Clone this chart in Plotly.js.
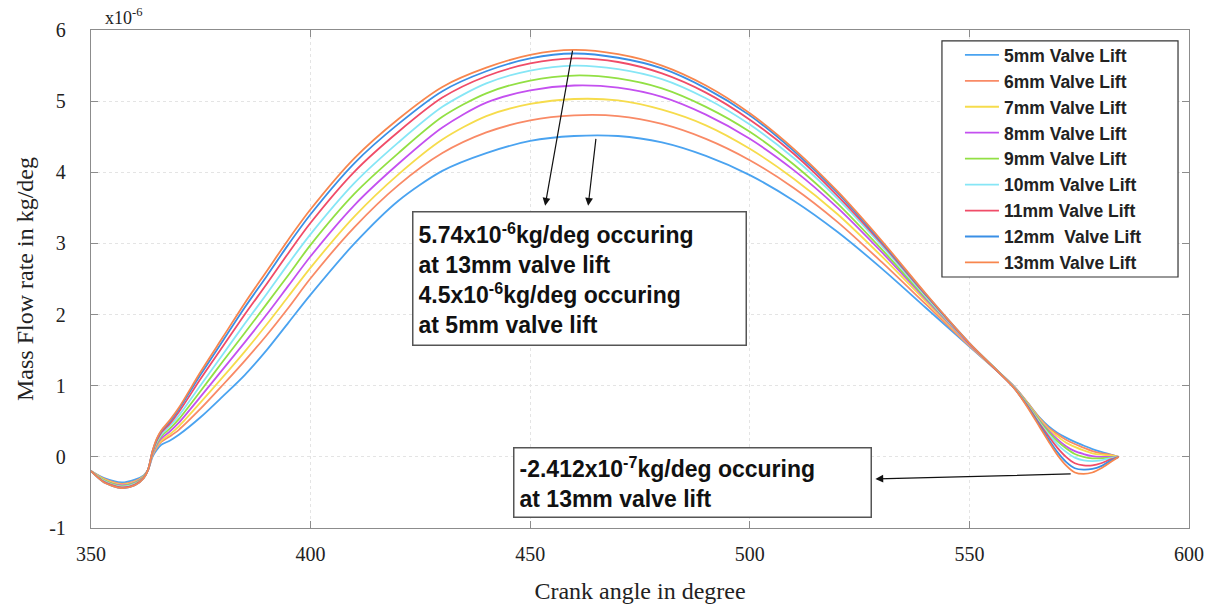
<!DOCTYPE html>
<html>
<head>
<meta charset="utf-8">
<script src="https://cdn.plot.ly/plotly-3.0.1.min.js"></script>
<style>html,body{margin:0;padding:0;background:#fff}#chart{width:1213px;height:608px}</style>
</head>
<body>
<div id="chart"></div>
<script>
// Crank angle (degree)
const crankAngle = [350,353,357,360,362,363,364,365,366,368,370,375,380,385,390,395,400,410,420,430,440,450,460,470,480,490,500,510,520,530,540,550,560,563,566,568,570,572,574,576,578,580,582,584];

// Mass flow rate (x10^-6 kg/deg), one array per valve lift
const lift5mm  = [-0.20,-0.30,-0.36,-0.32,-0.26,-0.18,0.00,0.10,0.17,0.23,0.31,0.56,0.85,1.15,1.50,1.89,2.28,3.00,3.60,4.02,4.27,4.44,4.51,4.51,4.42,4.23,3.96,3.60,3.16,2.65,2.10,1.55,1.00,0.78,0.55,0.43,0.34,0.27,0.21,0.16,0.11,0.07,0.035,0.00];
const lift6mm  = [-0.20,-0.31,-0.38,-0.34,-0.27,-0.18,0.02,0.13,0.21,0.29,0.38,0.68,1.01,1.35,1.71,2.10,2.51,3.23,3.82,4.27,4.56,4.73,4.80,4.79,4.68,4.47,4.17,3.78,3.30,2.74,2.15,1.56,1.00,0.78,0.54,0.41,0.32,0.24,0.18,0.13,0.08,0.05,0.03,0.00];
const lift7mm  = [-0.20,-0.32,-0.39,-0.35,-0.27,-0.18,0.03,0.15,0.23,0.32,0.43,0.77,1.12,1.48,1.86,2.26,2.66,3.38,3.97,4.46,4.79,4.96,5.03,5.01,4.88,4.66,4.33,3.91,3.41,2.82,2.19,1.57,0.99,0.77,0.53,0.39,0.29,0.20,0.14,0.09,0.05,0.03,0.02,0.00];
const lift8mm  = [-0.20,-0.33,-0.40,-0.36,-0.28,-0.18,0.04,0.17,0.26,0.36,0.48,0.85,1.23,1.61,2.00,2.41,2.82,3.54,4.12,4.63,4.98,5.15,5.22,5.19,5.06,4.81,4.47,4.03,3.50,2.88,2.22,1.58,0.99,0.76,0.51,0.37,0.25,0.15,0.08,0.04,0.01,0.00,0.00,0.00];
const lift9mm  = [-0.20,-0.33,-0.41,-0.37,-0.28,-0.18,0.05,0.19,0.29,0.40,0.53,0.93,1.34,1.74,2.15,2.56,2.98,3.70,4.27,4.78,5.11,5.29,5.36,5.32,5.18,4.92,4.57,4.11,3.56,2.92,2.24,1.59,0.99,0.76,0.50,0.35,0.22,0.12,0.04,0.00,-0.02,-0.02,-0.01,0.00];
const lift10mm = [-0.20,-0.34,-0.42,-0.38,-0.29,-0.18,0.06,0.21,0.31,0.44,0.58,1.01,1.44,1.87,2.29,2.72,3.13,3.85,4.42,4.92,5.25,5.43,5.50,5.45,5.31,5.04,4.67,4.20,3.63,2.97,2.26,1.59,0.99,0.75,0.48,0.32,0.18,0.07,-0.01,-0.05,-0.06,-0.05,-0.02,0.00];
const lift11mm = [-0.20,-0.35,-0.43,-0.39,-0.29,-0.18,0.07,0.23,0.34,0.47,0.63,1.10,1.55,2.00,2.43,2.87,3.29,4.01,4.57,5.05,5.35,5.53,5.60,5.55,5.39,5.12,4.74,4.26,3.67,3.00,2.28,1.59,0.98,0.74,0.46,0.29,0.13,0.00,-0.09,-0.12,-0.12,-0.09,-0.04,0.00];
const lift12mm = [-0.20,-0.36,-0.44,-0.40,-0.30,-0.18,0.08,0.25,0.36,0.50,0.67,1.16,1.63,2.10,2.54,2.99,3.41,4.13,4.68,5.14,5.42,5.60,5.67,5.61,5.46,5.18,4.80,4.30,3.71,3.02,2.29,1.60,0.98,0.73,0.44,0.25,0.07,-0.07,-0.16,-0.18,-0.17,-0.13,-0.06,0.00];
const lift13mm = [-0.20,-0.36,-0.44,-0.40,-0.30,-0.18,0.08,0.26,0.37,0.52,0.69,1.20,1.68,2.16,2.61,3.06,3.48,4.20,4.75,5.20,5.47,5.65,5.72,5.66,5.50,5.22,4.83,4.33,3.73,3.04,2.30,1.60,0.98,0.72,0.42,0.22,0.03,-0.12,-0.22,-0.24,-0.22,-0.16,-0.08,0.00];

const seriesNames = ["5mm Valve Lift","6mm Valve Lift","7mm Valve Lift","8mm Valve Lift","9mm Valve Lift","10mm Valve Lift","11mm Valve Lift","12mm&nbsp; Valve Lift","13mm Valve Lift"];
const seriesValues = [lift5mm,lift6mm,lift7mm,lift8mm,lift9mm,lift10mm,lift11mm,lift12mm,lift13mm];
const seriesColors = ["#4aa3f0","#f98a66","#f6dc4c","#c450f0","#92e044","#86e6f6","#f04c68","#3a8fe6","#f8864e"];

const xTicks = [350,400,450,500,550,600];
const yTicks = [-1,0,1,2,3,4,5,6];

const traces = seriesValues.map((v,i)=>({
  type:'scatter', mode:'lines', x:crankAngle, y:v, name:seriesNames[i],
  legendgroup:'g'+i,
  line:{color:seriesColors[i], width:1.8, shape:'spline', smoothing:0.8}
}));

const serif = "Liberation Serif, Times New Roman, serif";
const sans = "Liberation Sans, Arial, sans-serif";

const axisCommon = {
  showline:true, linecolor:'#8c8c8c', linewidth:1.2, mirror:'ticks',
  ticks:'inside', ticklen:7, tickcolor:'#8c8c8c', tickwidth:1.2,
  showgrid:true, gridcolor:'#e4e4e4', griddash:'dot', gridwidth:1,
  zeroline:false, tickfont:{family:serif, size:20, color:'#222'}
};

const layout = {
  width:1213, height:608,
  margin:{l:91, r:24, t:30, b:80},
  paper_bgcolor:'#fff', plot_bgcolor:'#fff',
  showlegend:true,
  legend:{x:0.7914, y:0.986, xanchor:'left', yanchor:'top', bgcolor:'rgba(0,0,0,0)',
    borderwidth:0, tracegroupgap:0.2, itemwidth:34,
    font:{family:sans, size:17.5, color:'#222', weight:'bold'}},
  shapes:[
    {type:'rect', xref:'paper', yref:'paper', x0:0.775, x1:0.990, y0:0.504, y1:0.978,
     line:{color:'#333', width:1.2}, fillcolor:'#fff', layer:'above'}
  ],
  xaxis:Object.assign({}, axisCommon, {range:[350,600], tickvals:xTicks, ticktext:xTicks.map(String),
    ticklabelstandoff:8,
    title:{text:'Crank angle in degree', font:{family:serif, size:24, color:'#222'}, standoff:18}}),
  yaxis:Object.assign({}, axisCommon, {range:[-1,6], tickvals:yTicks, ticktext:yTicks.map(String),
    ticklabelstandoff:20,
    title:{text:'Mass Flow rate in kg/deg', font:{family:serif, size:24, color:'#222'}, standoff:8}}),
  annotations:[
    {xref:'paper', yref:'paper', x:0.011, y:1.0, xanchor:'left', yanchor:'bottom', showarrow:false,
     text:'x10<sup>-6</sup>', font:{family:serif, size:18, color:'#222'}},
    {x:423.1, y:3.45, xanchor:'left', yanchor:'top', showarrow:false, align:'left', valign:'middle',
     width:322, height:122,
     text:'5.74x10<sup>-6</sup>kg/deg occuring<br>at 13mm valve lift<br>4.5x10<sup>-6</sup>kg/deg occuring<br>at 5mm valve lift',
     font:{family:sans, size:23, color:'#111', weight:'bold'},
     bordercolor:'#555', borderwidth:1.5, borderpad:5, bgcolor:'#fff'},
    {x:446.1, y:0.14, xanchor:'left', yanchor:'top', showarrow:false, align:'left', valign:'middle',
     width:346, height:58,
     text:'-2.412x10<sup>-7</sup>kg/deg occuring<br>at 13mm valve lift',
     font:{family:sans, size:23, color:'#111', weight:'bold'},
     bordercolor:'#555', borderwidth:1.5, borderpad:5, bgcolor:'#fff'},
    {x:453.4, y:3.53, ax:459.7, ay:5.73, axref:'x', ayref:'y', text:'', showarrow:true,
     arrowhead:2, arrowsize:1.3, arrowwidth:1.2, arrowcolor:'#111'},
    {x:463.2, y:3.53, ax:465.0, ay:4.49, axref:'x', ayref:'y', text:'', showarrow:true,
     arrowhead:2, arrowsize:1.3, arrowwidth:1.2, arrowcolor:'#111'},
    {x:528.6, y:-0.31, ax:573.4, ay:-0.24, axref:'x', ayref:'y', text:'', showarrow:true,
     arrowhead:2, arrowsize:1.3, arrowwidth:1.2, arrowcolor:'#111'}
  ]
};

Plotly.newPlot('chart', traces, layout, {displayModeBar:false, staticPlot:true});
</script>
</body>
</html>
